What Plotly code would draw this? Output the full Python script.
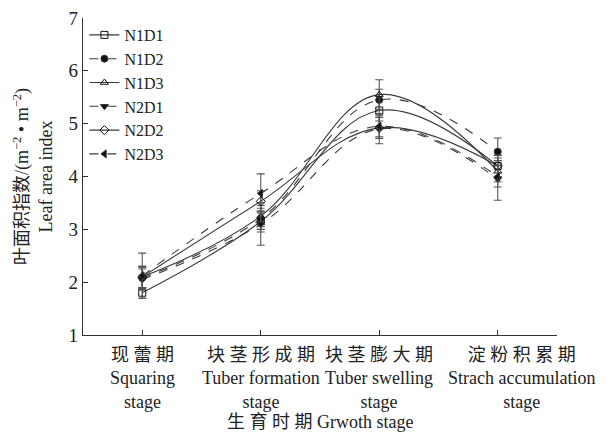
import plotly.graph_objects as go

stages_cn = ["现 蕾 期", "块 茎 形 成 期", "块 茎 膨 大 期", "淀 粉 积 累 期"]
stages_en = ["Squaring<br>stage", "Tuber formation<br>stage", "Tuber swelling<br>stage", "Strach accumulation<br>stage"]
xpos = [0, 1, 2, 3]

names = ["N1D1", "N1D2", "N1D3", "N2D1", "N2D2", "N2D3"]
N1D1 = [1.80, 3.15, 5.25, 4.20]
N1D2 = [2.08, 3.20, 5.45, 4.47]
N1D3 = [2.10, 3.25, 5.55, 4.10]
N2D1 = [2.05, 3.10, 4.90, 3.95]
N2D2 = [2.10, 3.53, 4.92, 4.20]
N2D3 = [2.12, 3.68, 4.95, 4.00]

N1D1_err = [0.10, 0.20, 0.20, 0.20]
N1D2_err = [0.20, 0.20, 0.20, 0.26]
N1D3_err = [0.20, 0.20, 0.28, 0.20]
N2D1_err = [0.20, 0.40, 0.28, 0.40]
N2D2_err = [0.20, 0.20, 0.20, 0.20]
N2D3_err = [0.43, 0.37, 0.20, 0.20]

series = [N1D1, N1D2, N1D3, N2D1, N2D2, N2D3]
errs = [N1D1_err, N1D2_err, N1D3_err, N2D1_err, N2D2_err, N2D3_err]
symbols = ["square-open", "circle", "triangle-up-open", "triangle-down", "diamond-open", "triangle-left"]
dashes = ["solid", "dash", "solid", "dash", "solid", "dash"]

serif = "'Liberation Serif', Tinos, 'DejaVu Serif', serif"
cjk = "'Liberation Serif', 'Noto Sans CJK SC', serif"

fig = go.Figure()
for n, s, e, sym, d in zip(names, series, errs, symbols, dashes):
    fig.add_trace(go.Scatter(
        x=xpos, y=s, name=n, mode="lines+markers",
        line=dict(color="#3a3a3a", width=1.1, dash=d, shape="spline", smoothing=1.1),
        marker=dict(symbol=sym, size=7, color="#111111", line=dict(color="#333333", width=1)),
        error_y=dict(type="data", array=e, visible=True, color="#555555", thickness=1.1, width=4),
    ))

# category labels below the axis (last one nudged right as in the original)
shifts = [0, 0, 0, 24]
for xv, cn, en, sh in zip(xpos, stages_cn, stages_en, shifts):
    fig.add_annotation(x=xv, y=0, xref="x", yref="paper", yanchor="top", yshift=-8, xshift=sh,
                       text=cn + "<br>" + en, showarrow=False, align="center",
                       font=dict(family=cjk, size=18, color="#222222"))
fig.add_annotation(x=0.5, y=0, xref="paper", yref="paper", yanchor="top", yshift=-75,
                   text="生 育 时 期 Grwoth stage", showarrow=False,
                   font=dict(family=cjk, size=18, color="#222222"))

fig.update_layout(
    width=607, height=432,
    margin=dict(l=83, r=50, t=18, b=97),
    plot_bgcolor="white", paper_bgcolor="white",
    font=dict(family=serif, size=18, color="#222222"),
    showlegend=True,
    legend=dict(x=0.003, y=1.0, xanchor="left", yanchor="top", bgcolor="rgba(0,0,0,0)",
                font=dict(family=serif, size=16), tracegroupgap=0, itemwidth=30),
    xaxis=dict(
        range=[-0.5, 3.5], tickmode="array", tickvals=xpos, ticktext=["", "", "", ""],
        showline=True, linecolor="#333333", linewidth=1.2, ticks="inside", ticklen=5,
        tickcolor="#333333", showgrid=False, zeroline=False, automargin=False,
    ),
    yaxis=dict(
        range=[1, 7], dtick=1, showline=True, linecolor="#333333", linewidth=1.2,
        ticks="inside", ticklen=5, tickcolor="#333333", showgrid=False, zeroline=False,
        automargin=False, tickfont=dict(family=serif, size=19),
        title=dict(text="叶面积指数/(m<sup>−2</sup> • m<sup>−2</sup>)<br>Leaf area index",
                   font=dict(family=cjk, size=18), standoff=11),
    ),
)

fig.write_html("out.html", config={"displayModeBar": False},
               post_script="document.body.style.margin='0';document.body.style.overflow='hidden';")
